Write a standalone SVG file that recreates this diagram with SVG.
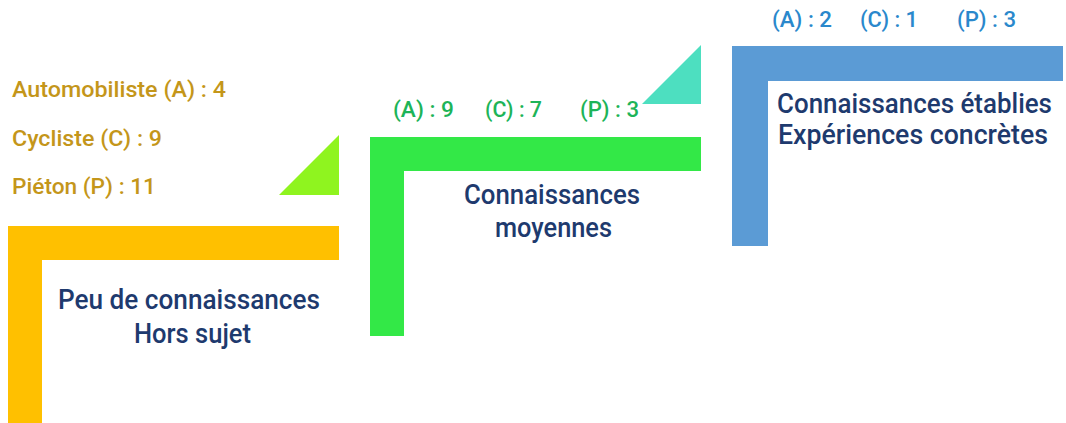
<svg xmlns="http://www.w3.org/2000/svg" width="1066" height="423" viewBox="0 0 1066 423">
<style>
text { font-family: Roboto, "Liberation Sans", "DejaVu Sans", sans-serif; }
.navy { fill: #1E3A6E; font-size: 28px; font-weight: 500; }
.gold { fill: #C4961A; font-size: 22px; font-weight: 500; }
.grn { fill: #1DB458; font-size: 22px; font-weight: 500; }
.blu { fill: #2A88CC; font-size: 22px; font-weight: 500; }
</style>
<rect width="1066" height="423" fill="#FFFFFF"/>
<g id="step1">
  <polygon points="8,226 339,226 339,260 42,260 42,423 8,423" fill="#FFC000"/>
  <text class="navy" x="58" y="309" textLength="262" lengthAdjust="spacingAndGlyphs">Peu de connaissances</text>
  <text class="navy" x="134" y="342.5" textLength="117" lengthAdjust="spacingAndGlyphs">Hors sujet</text>
</g>
<g id="counts1">
  <text class="gold" x="12" y="97" textLength="214" lengthAdjust="spacingAndGlyphs">Automobiliste (A) : 4</text>
  <text class="gold" x="12" y="145.5" textLength="150" lengthAdjust="spacingAndGlyphs">Cycliste (C) : 9</text>
  <text class="gold" x="12" y="193.5" textLength="144" lengthAdjust="spacingAndGlyphs">Piéton (P) : 11</text>
</g>
<g id="riser1">
  <polygon points="279,195 339,195 339,135" fill="#8FF41F"/>
</g>
<g id="step2">
  <polygon points="370,137 701,137 701,171 404,171 404,336 370,336" fill="#33E847"/>
  <text class="navy" x="464" y="203.5" textLength="176" lengthAdjust="spacingAndGlyphs">Connaissances</text>
  <text class="navy" x="495" y="236.5" textLength="117" lengthAdjust="spacingAndGlyphs">moyennes</text>
</g>
<g id="counts2">
  <text class="grn" x="393" y="117.3" textLength="61" lengthAdjust="spacingAndGlyphs">(A) : 9</text>
  <text class="grn" x="485" y="117.3" textLength="57" lengthAdjust="spacingAndGlyphs">(C) : 7</text>
  <text class="grn" x="580" y="117.3" textLength="59" lengthAdjust="spacingAndGlyphs">(P) : 3</text>
</g>
<g id="riser2">
  <polygon points="642,104 701,104 701,45" fill="#4DDFC0"/>
</g>
<g id="step3">
  <polygon points="732,46 1063,46 1063,81 768,81 768,246 732,246" fill="#5B9BD5"/>
  <text class="navy" transform="translate(914.5,113) scale(0.9,1)" x="0" y="0" text-anchor="middle" textLength="305.5" lengthAdjust="spacingAndGlyphs">Connaissances établies</text>
  <text class="navy" transform="translate(913,143.5) scale(0.9,1)" x="0" y="0" text-anchor="middle" textLength="300" lengthAdjust="spacingAndGlyphs">Expériences concrètes</text>
</g>
<g id="counts3">
  <text class="blu" x="772" y="26.5" textLength="60" lengthAdjust="spacingAndGlyphs">(A) : 2</text>
  <text class="blu" x="860" y="26.5" textLength="58" lengthAdjust="spacingAndGlyphs">(C) : 1</text>
  <text class="blu" x="957" y="26.5" textLength="59" lengthAdjust="spacingAndGlyphs">(P) : 3</text>
</g>
<g id="connectors"></g>
</svg>
